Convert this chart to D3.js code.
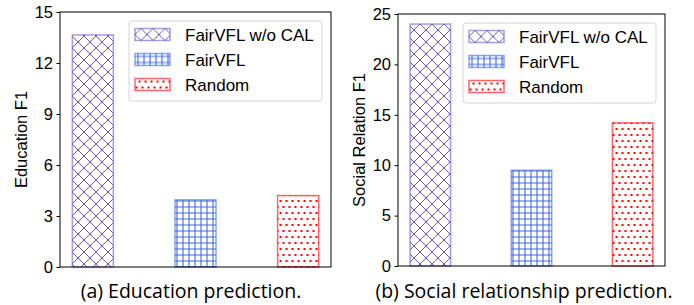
<!DOCTYPE html>
<html>
<head>
<meta charset="utf-8">
<script src="https://cdn.jsdelivr.net/npm/d3@7"></script>
<style>
  body { margin: 0; background: #fff; }
  svg { display: block; }
</style>
</head>
<body>
<script>
const width = 694;
const height = 305;

// data
const methods = ["FairVFL w/o CAL", "FairVFL", "Random"];
const educationF1 = [13.65, 3.95, 4.2];
const socialF1 = [24.0, 9.5, 14.2];
const educationTicks = [0, 3, 6, 9, 12, 15];
const socialTicks = [0, 5, 10, 15, 20, 25];

const colors = ["#6a5acd", "#4169e1", "#ff0000"];
const patternIds = ["hatch-x", "hatch-grid", "hatch-dots"];

const svg = d3.select("body").append("svg")
  .attr("width", width)
  .attr("height", height)
  .attr("viewBox", [0, 0, width, height]);

const defs = svg.append("defs");

// cross hatch
const px = defs.append("pattern")
  .attr("id", "hatch-x")
  .attr("patternUnits", "userSpaceOnUse")
  .attr("width", 12).attr("height", 12);
px.append("path")
  .attr("d", "M0,0L12,12M0,12L12,0M-1,1L1,-1M11,13L13,11")
  .attr("stroke", colors[0]).attr("stroke-width", 1).attr("fill", "none");

// grid hatch
const pg = defs.append("pattern")
  .attr("id", "hatch-grid")
  .attr("patternUnits", "userSpaceOnUse")
  .attr("width", 6).attr("height", 6);
pg.append("path")
  .attr("d", "M3,0V6M0,3H6")
  .attr("stroke", colors[1]).attr("stroke-width", 1.1).attr("fill", "none");

// dot hatch
const pd = defs.append("pattern")
  .attr("id", "hatch-dots")
  .attr("patternUnits", "userSpaceOnUse")
  .attr("width", 6).attr("height", 12);
[[1.5, 3], [4.5, 9]].forEach(function (p) {
  pd.append("rect")
    .attr("x", p[0] - 1).attr("y", p[1] - 1)
    .attr("width", 2).attr("height", 2)
    .attr("fill", colors[2]);
});

const panels = [
  { left: 60, right: 331, top: 12, bottom: 267, max: 15, ticks: educationTicks,
    values: educationF1, ylabel: "Education F1", ylabelX: 21,
    caption: "(a) Education prediction.", captionX: 191 },
  { left: 398, right: 665, top: 14, bottom: 266, max: 25, ticks: socialTicks,
    values: socialF1, ylabel: "Social Relation F1", ylabelX: 359,
    caption: "(b) Social relationship prediction.", captionX: 524 }
];

const fontMain = "'Liberation Sans', Arial, Helvetica, sans-serif";

panels.forEach(function (p) {
  const g = svg.append("g");

  const x = d3.scaleLinear().domain([-0.32, 2.32]).range([p.left, p.right]);
  const y = d3.scaleLinear().domain([0, p.max]).range([p.bottom, p.top]);
  const barW = x(0.4) - x(0);

  g.selectAll("rect.bar")
    .data(p.values)
    .enter()
    .append("rect")
    .attr("class", "bar")
    .attr("x", (d, i) => x(i) - barW / 2)
    .attr("y", (d) => y(d))
    .attr("width", barW)
    .attr("height", (d) => y(0) - y(d))
    .attr("fill", (d, i) => "url(#" + patternIds[i] + ")")
    .attr("stroke", (d, i) => colors[i])
    .attr("stroke-opacity", 0.6)
    .attr("stroke-width", 1.5);

  // frame
  g.append("rect")
    .attr("x", p.left).attr("y", p.top)
    .attr("width", p.right - p.left).attr("height", p.bottom - p.top)
    .attr("fill", "none").attr("stroke", "#000").attr("stroke-width", 1);

  const yAxis = g.append("g")
    .attr("transform", "translate(" + p.left + ",0)")
    .call(d3.axisLeft(y).tickValues(p.ticks).tickSize(3.5).tickSizeOuter(0).tickPadding(3.5));
  yAxis.select(".domain").remove();
  yAxis.selectAll("text")
    .attr("font-family", fontMain)
    .attr("font-size", "16.5px")
    .attr("fill", "#000");
  yAxis.selectAll("line").attr("stroke", "#000");

  g.append("text")
    .attr("transform", "translate(" + p.ylabelX + "," + (p.top + p.bottom) / 2 + ") rotate(-90)")
    .attr("text-anchor", "middle")
    .attr("dy", "0.35em")
    .attr("font-family", fontMain)
    .attr("font-size", "16.5px")
    .text(p.ylabel);

  // legend
  const lx = p.right - 9 - 193;
  const ly = p.top + 9;
  const leg = g.append("g").attr("transform", "translate(" + lx + "," + ly + ")");
  leg.append("rect")
    .attr("width", 193).attr("height", 80)
    .attr("rx", 3)
    .attr("fill", "#fff").attr("fill-opacity", 0.8)
    .attr("stroke", "#d6d6d6").attr("stroke-width", 1);

  const items = leg.selectAll("g.item")
    .data(methods)
    .enter()
    .append("g")
    .attr("class", "item")
    .attr("transform", (d, i) => "translate(6," + (13.5 + i * 25) + ")");
  items.append("rect")
    .attr("x", 0).attr("y", -6)
    .attr("width", 35).attr("height", 12)
    .attr("fill", (d, i) => "url(#" + patternIds[i] + ")")
    .attr("stroke", (d, i) => colors[i])
    .attr("stroke-opacity", 0.6)
    .attr("stroke-width", 1.5);
  items.append("text")
    .attr("x", 50)
    .attr("dy", "0.36em")
    .attr("font-family", fontMain)
    .attr("font-size", "17px")
    .text((d) => d);

  svg.append("text")
    .attr("x", p.captionX)
    .attr("y", 298)
    .attr("text-anchor", "middle")
    .attr("font-family", "'Open Sans', 'Noto Sans', sans-serif")
    .attr("font-size", "19.5px")
    .text(p.caption);
});
</script>
</body>
</html>
